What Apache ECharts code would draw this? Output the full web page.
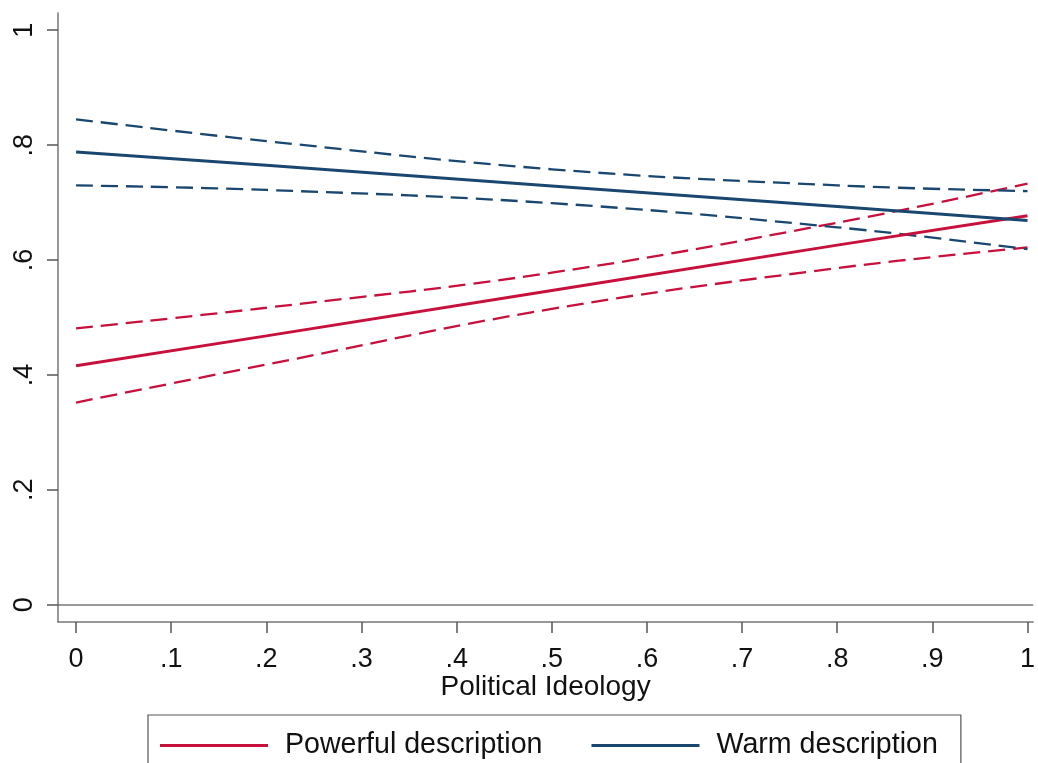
<!DOCTYPE html>
<html>
<head>
<meta charset="utf-8">
<script src="https://cdn.jsdelivr.net/npm/echarts@6/dist/echarts.min.js"></script>
<style>
html,body{margin:0;padding:0;background:#fff;}
#chart{width:1038px;height:763px;}
</style>
</head>
<body>
<div id="chart"></div>
<script>
// Data
var ideology = [0, 0.2, 0.5, 0.8, 1];
var powerfulFit   = [0.416, 0.468, 0.547, 0.626, 0.677];
var powerfulUpper = [0.481, 0.517, 0.578, 0.665, 0.733];
var powerfulLower = [0.352, 0.418, 0.515, 0.586, 0.622];
var warmFit   = [0.788, 0.765, 0.729, 0.693, 0.669];
var warmUpper = [0.845, 0.807, 0.758, 0.730, 0.720];
var warmLower = [0.730, 0.722, 0.699, 0.657, 0.619];
var xTicks = [0, 0.1, 0.2, 0.3, 0.4, 0.5, 0.6, 0.7, 0.8, 0.9, 1];
var yTicks = [0, 0.2, 0.4, 0.6, 0.8, 1];
var seriesNames = ['Powerful description', 'Warm description'];

var RED = '#c8103c';
var BLUE = '#1a476f';
var FONT = 'Liberation Sans, Arial, Helvetica, sans-serif';

function pairs(ys) { return ideology.map(function (x, i) { return [x, ys[i]]; }); }
function fmt(v) {
  if (Math.abs(v) < 1e-9) return '0';
  if (Math.abs(v - 1) < 1e-9) return '1';
  return '.' + Math.round(v * 10);
}
function ciSeries(name, ys, color) {
  return {
    name: name, type: 'line', data: pairs(ys), smooth: 0.4,
    showSymbol: false, symbol: 'none', silent: true,
    lineStyle: { color: color, width: 2.3, type: [17, 8] }, z: 2
  };
}

var chart = echarts.init(document.getElementById('chart'), null, { renderer: 'canvas' });
chart.setOption({
  backgroundColor: '#ffffff',
  animation: false,
  textStyle: { fontFamily: FONT },
  grid: { left: 58, right: 0, top: 13, bottom: 141, containLabel: false },
  xAxis: {
    type: 'value', min: -0.019, max: 1.006,
    name: 'Political Ideology', nameLocation: 'middle', nameGap: 51,
    nameMoveOverlap: false,
    nameTextStyle: { fontSize: 28, color: '#111', fontFamily: FONT },
    axisLine: { show: true, onZero: false, lineStyle: { color: '#777', width: 1.5 } },
    axisTick: { show: true, length: 11, lineStyle: { color: '#555', width: 1.5 }, customValues: xTicks },
    axisLabel: { fontSize: 27, color: '#111', margin: 24, fontFamily: FONT, customValues: xTicks, formatter: fmt },
    splitLine: { show: false }
  },
  yAxis: {
    type: 'value', min: -0.03, max: 1.03,
    axisLine: { show: true, onZero: false, lineStyle: { color: '#777', width: 1.5 } },
    axisTick: { show: true, length: 11, lineStyle: { color: '#555', width: 1.5 }, customValues: yTicks },
    axisLabel: { fontSize: 27, color: '#111', margin: 20, rotate: 90, fontFamily: FONT, customValues: yTicks, formatter: fmt },
    splitLine: { show: false }
  },
  legend: {
    data: seriesNames,
    left: 148, top: 715,
    orient: 'horizontal',
    padding: [16, 23, 40, 12],
    itemGap: 49,
    itemWidth: 108, itemHeight: 3,
    icon: 'rect',
    borderColor: '#555', borderWidth: 1.2,
    textStyle: { fontSize: 28.6, color: '#111', fontFamily: FONT, padding: [0, 0, 0, 12] },
    selectedMode: false
  },
  series: [
    ciSeries('Powerful upper', powerfulUpper, RED),
    ciSeries('Powerful lower', powerfulLower, RED),
    ciSeries('Warm upper', warmUpper, BLUE),
    ciSeries('Warm lower', warmLower, BLUE),
    {
      name: seriesNames[0], type: 'line', data: pairs(powerfulFit),
      showSymbol: false, symbol: 'none', itemStyle: { color: RED },
      lineStyle: { color: RED, width: 3 }, z: 3,
      markLine: {
        silent: true, symbol: 'none', label: { show: false },
        lineStyle: { color: '#777', width: 1.5, type: 'solid' },
        data: [{ yAxis: 0 }]
      }
    },
    {
      name: seriesNames[1], type: 'line', data: pairs(warmFit),
      showSymbol: false, symbol: 'none', itemStyle: { color: BLUE },
      lineStyle: { color: BLUE, width: 3 }, z: 3
    }
  ]
});
</script>
</body>
</html>
